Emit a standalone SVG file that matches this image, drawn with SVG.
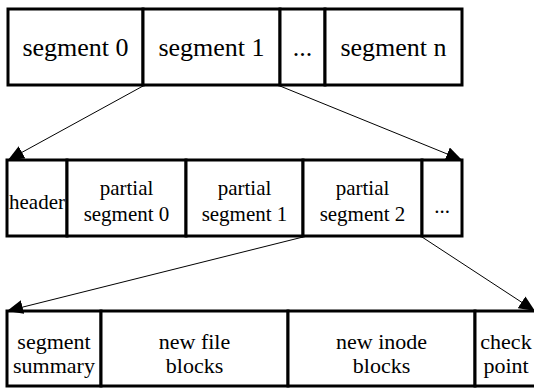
<svg xmlns="http://www.w3.org/2000/svg" width="534" height="388" viewBox="0 0 534 388">
  <style>
    .cell { fill: #fff; stroke: #000; stroke-width: 3; }
    text { font-family: 'Liberation Serif', 'DejaVu Serif', serif; fill: #000; text-anchor: middle; }
    .big { font-size: 26px; }
    .mid { font-size: 21px; }
    .sm { font-size: 22px; }
    .conn { stroke: #000; stroke-width: 1; fill: none; marker-end: url(#arrow); }
  </style>
  <defs>
    <marker id="arrow" markerUnits="userSpaceOnUse" markerWidth="17" markerHeight="14" refX="16" refY="7" orient="auto">
      <path d="M0,0 L16,7 L0,14 Z" fill="#000"/>
    </marker>
  </defs>

  <!-- log: segments -->
  <g id="seg0"><rect class="cell" x="8" y="9" width="135" height="76"/><text class="big" x="75.5" y="56">segment 0</text></g>
  <g id="seg1"><rect class="cell" x="143" y="9" width="137" height="76"/><text class="big" x="211.5" y="56">segment 1</text></g>
  <g id="segdots"><rect class="cell" x="280" y="9" width="45" height="76"/><text class="big" x="302.5" y="56">...</text></g>
  <g id="segn"><rect class="cell" x="325" y="9" width="137" height="76"/><text class="big" x="393.5" y="56">segment n</text></g>

  <!-- segment: header and partial segments -->
  <g id="header"><rect class="cell" x="7" y="160" width="60" height="76"/><text class="mid" x="37" y="209">header</text></g>
  <g id="pseg0"><rect class="cell" x="67" y="160" width="119" height="76"/><text class="mid" x="126.5" y="195">partial</text><text class="mid" x="126.5" y="221">segment 0</text></g>
  <g id="pseg1"><rect class="cell" x="186" y="160" width="117" height="76"/><text class="mid" x="244.5" y="195">partial</text><text class="mid" x="244.5" y="221">segment 1</text></g>
  <g id="pseg2"><rect class="cell" x="303" y="160" width="119" height="76"/><text class="mid" x="362.5" y="195">partial</text><text class="mid" x="362.5" y="221">segment 2</text></g>
  <g id="psegdots"><rect class="cell" x="422" y="160" width="40" height="76"/><text class="mid" x="442" y="213">...</text></g>

  <!-- partial segment contents -->
  <g id="summary"><rect class="cell" x="7" y="311" width="94" height="75"/><text class="sm" x="54" y="349">segment</text><text class="sm" x="54" y="373">summary</text></g>
  <g id="fileblocks"><rect class="cell" x="101" y="311" width="187" height="75"/><text class="sm" x="194.5" y="349">new file</text><text class="sm" x="194.5" y="373">blocks</text></g>
  <g id="inodeblocks"><rect class="cell" x="288" y="311" width="187" height="75"/><text class="sm" x="381.5" y="349">new inode</text><text class="sm" x="381.5" y="373">blocks</text></g>
  <g id="checkpoint"><rect class="cell" x="475" y="311" width="70" height="75"/><text class="sm" x="506" y="349">check</text><text class="sm" x="506" y="373">point</text></g>

  <!-- expansion connectors -->
  <g id="connectors">
    <line class="conn" x1="143" y1="86" x2="8" y2="160"/>
    <line class="conn" x1="280" y1="86" x2="462" y2="160"/>
    <line class="conn" x1="303" y1="237" x2="7" y2="311"/>
    <line class="conn" x1="422" y1="237" x2="535" y2="311"/>
  </g>
</svg>
